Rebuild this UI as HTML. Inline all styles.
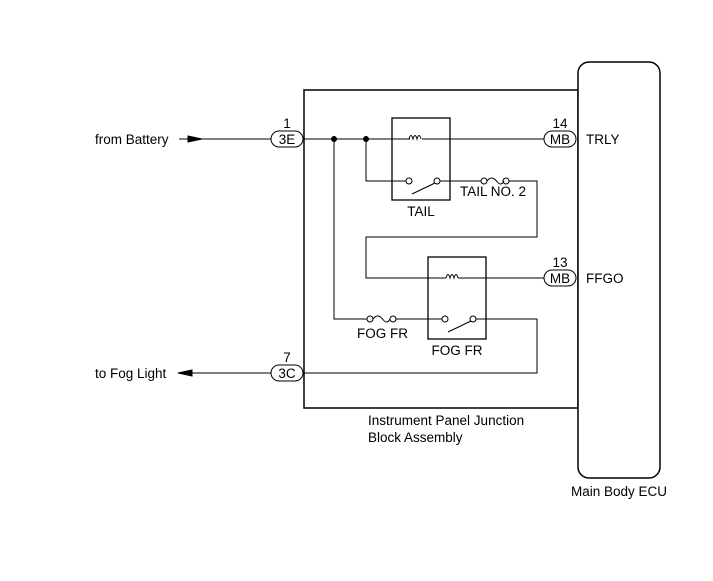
<!DOCTYPE html>
<html><head><style>body{margin:0;background:#fff}svg{display:block}</style></head><body>
<svg width="713" height="581" viewBox="0 0 713 581" xmlns="http://www.w3.org/2000/svg" font-family="Liberation Sans, Arial, sans-serif" font-size="13.5" fill="none" stroke="#000">
<rect x="304" y="90" width="274" height="318" stroke-width="1.5"/>
<rect x="578" y="62" width="82" height="416" rx="11" fill="#fff" stroke-width="1.5"/>
<g stroke-width="1">
<line x1="179" y1="139" x2="271" y2="139"/>
<polygon points="188,136 202,139 188,142" fill="#000"/>
<line x1="180" y1="373" x2="271" y2="373"/>
<polygon points="192,370 178,373 192,376" fill="#000"/>
<line x1="303" y1="139" x2="410" y2="139"/>
<line x1="422" y1="139" x2="544" y2="139"/>
<path d="M366 139 V181 H406"/>
<path d="M440 181 H482 M506 181 H537 V237 H366 V278 H446 M458 278 H544"/>
<path d="M334 139 V319 H367 M395 319 H442"/>
<path d="M476 319 H537 V373 H303"/>
<rect x="392" y="118" width="58" height="82" stroke-width="1.3"/>
<rect x="428" y="257" width="58" height="82" stroke-width="1.3"/>
<path d="M409 139 q2 -7 4 0 q2 -7 4 0 q2 -7 4 0" />
<path d="M446 278 q2 -7 4 0 q2 -7 4 0 q2 -7 4 0" />
<circle cx="409" cy="181" r="3" fill="#fff"/><circle cx="437" cy="181" r="3" fill="#fff"/>
<line x1="412" y1="194" x2="435" y2="183"/>
<circle cx="445" cy="319" r="3" fill="#fff"/><circle cx="473" cy="319" r="3" fill="#fff"/>
<line x1="448" y1="332" x2="471" y2="321"/>
<circle cx="484" cy="181" r="3" fill="#fff"/><circle cx="506" cy="181" r="3" fill="#fff"/>
<path d="M487 181 q4.5 -6 9.5 0 q4.5 6 7.5 0"/>
<circle cx="370" cy="319" r="3" fill="#fff"/><circle cx="393" cy="319" r="3" fill="#fff"/>
<path d="M373 319 q4.5 -6 9.5 0 q4.5 6 7.5 0"/>
<rect x="271" y="131" width="32" height="16" rx="8" fill="#fff"/>
<rect x="271" y="365" width="32" height="16" rx="8" fill="#fff"/>
<rect x="544" y="131" width="32" height="16" rx="8" fill="#fff"/>
<rect x="544" y="270" width="32" height="16" rx="8" fill="#fff"/>
</g>
<circle cx="334" cy="139" r="2.5" fill="#000"/><circle cx="366" cy="139" r="2.5" fill="#000"/>
<g fill="#000" stroke="none">
<text x="95" y="144">from Battery</text>
<text x="95" y="378">to Fog Light</text>
<text x="287" y="144" text-anchor="middle">3E</text>
<text x="287" y="378" text-anchor="middle">3C</text>
<text x="560" y="144" text-anchor="middle">MB</text>
<text x="560" y="283" text-anchor="middle">MB</text>
<text x="287" y="128" text-anchor="middle">1</text>
<text x="287" y="362" text-anchor="middle">7</text>
<text x="560" y="128" text-anchor="middle">14</text>
<text x="560" y="267" text-anchor="middle">13</text>
<text x="586" y="144">TRLY</text>
<text x="586" y="283">FFGO</text>
<text x="421" y="216" text-anchor="middle">TAIL</text>
<text x="460" y="196">TAIL NO. 2</text>
<text x="357" y="338">FOG FR</text>
<text x="457" y="355" text-anchor="middle">FOG FR</text>
<text x="368" y="425">Instrument Panel Junction</text>
<text x="368" y="442">Block Assembly</text>
<text x="571" y="496">Main Body ECU</text>
</g>
</svg>
</body></html>
